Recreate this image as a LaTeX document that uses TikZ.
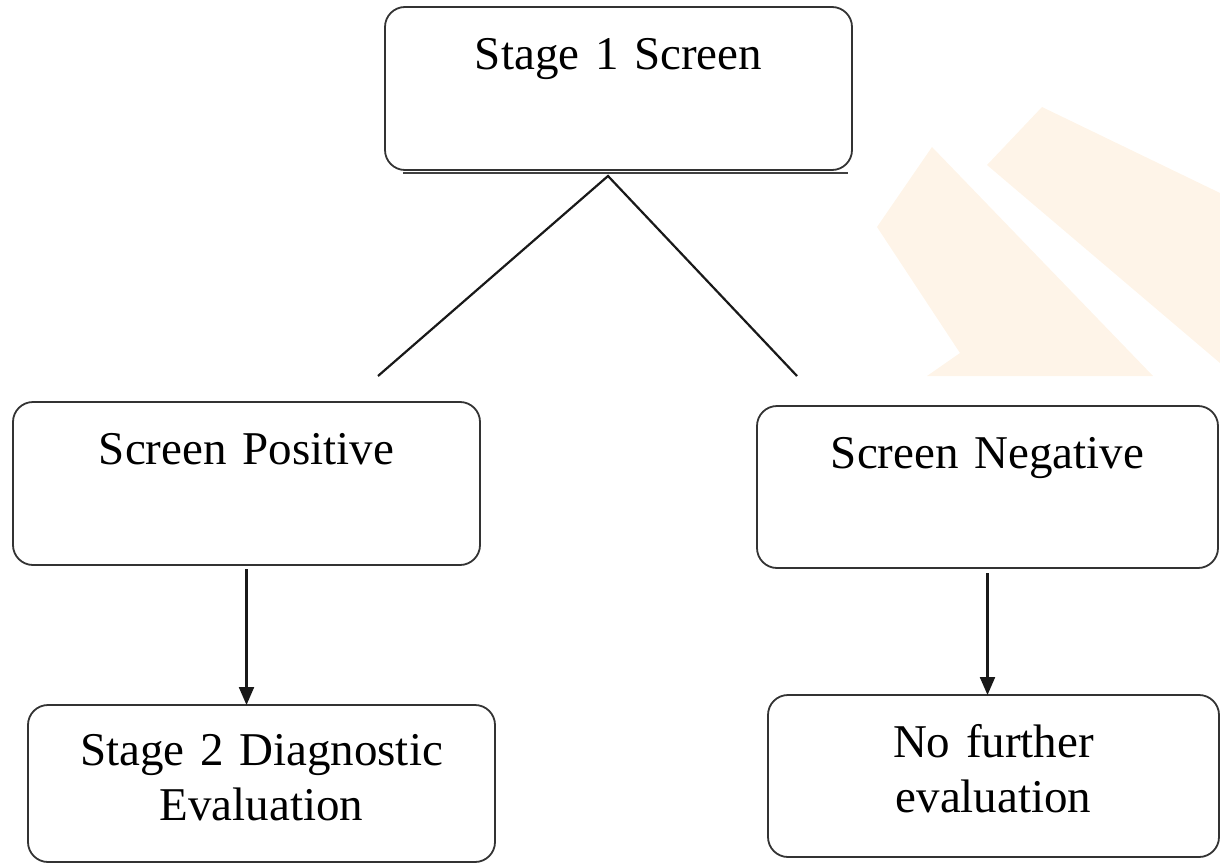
\documentclass[tikz,border=0pt]{standalone}
\usepackage{fontspec}
\setmainfont{Liberation Serif}
\usetikzlibrary{arrows.meta,positioning}
\definecolor{wmark}{HTML}{FEF4E8}
\begin{document}
\begin{tikzpicture}[x=1pt,y=-1pt]
\tikzstyle{stagebox}=[rectangle,rounded corners=20pt,line width=1.8pt,
draw=black!80,inner sep=0pt,outer sep=0pt,align=center,
font=\fontsize{47pt}{55pt}\selectfont,anchor=north west]
\tikzstyle{flow}=[line width=2.2pt,draw=black!90]
\useasboundingbox (0,0) rectangle (1220,864);

\fill[wmark] (877,227) -- (932,147) -- (1153,376) -- (927,376) -- (960,353) -- cycle;
\fill[wmark] (987,165) -- (1042,107) -- (1220,193) -- (1220,363) -- cycle;

\node[stagebox,text width=467pt,text height=63pt,text depth=100pt] at (385,7) (s1) {Stage 1 Screen};
\node[stagebox,text width=467pt,text height=62pt,text depth=101pt] at (13,402) (pos) {Screen Positive};
\node[stagebox,text width=461pt,text height=62pt,text depth=100pt] at (757,406) (neg) {Screen Negative};
\node[stagebox,text width=467pt,text height=60pt,text depth=97pt] at (28,705) (diag) {Stage 2 Diagnostic\\Evaluation};
\node[stagebox,text width=451pt,text height=62pt,text depth=100pt] at (768,695) (nofur) {No further\\evaluation};

\coordinate (apex) at (608,176);
\coordinate (lend) at (378,376);
\coordinate (rend) at (797,376);

\draw[line width=1.4pt,black!75] ([xshift=18pt,yshift=-3pt]s1.south west) -- ([xshift=-4pt,yshift=-3pt]s1.south east);
\draw[flow] (lend) -- (apex) -- (rend);
\draw[flow,-{Triangle[length=18pt,width=15pt]},shorten <=4pt] (pos.south) -- (pos.south |- diag.north);
\draw[flow,-{Triangle[length=18pt,width=15pt]},shorten <=5pt] (neg.south) -- (neg.south |- nofur.north);

\end{tikzpicture}
\end{document}
